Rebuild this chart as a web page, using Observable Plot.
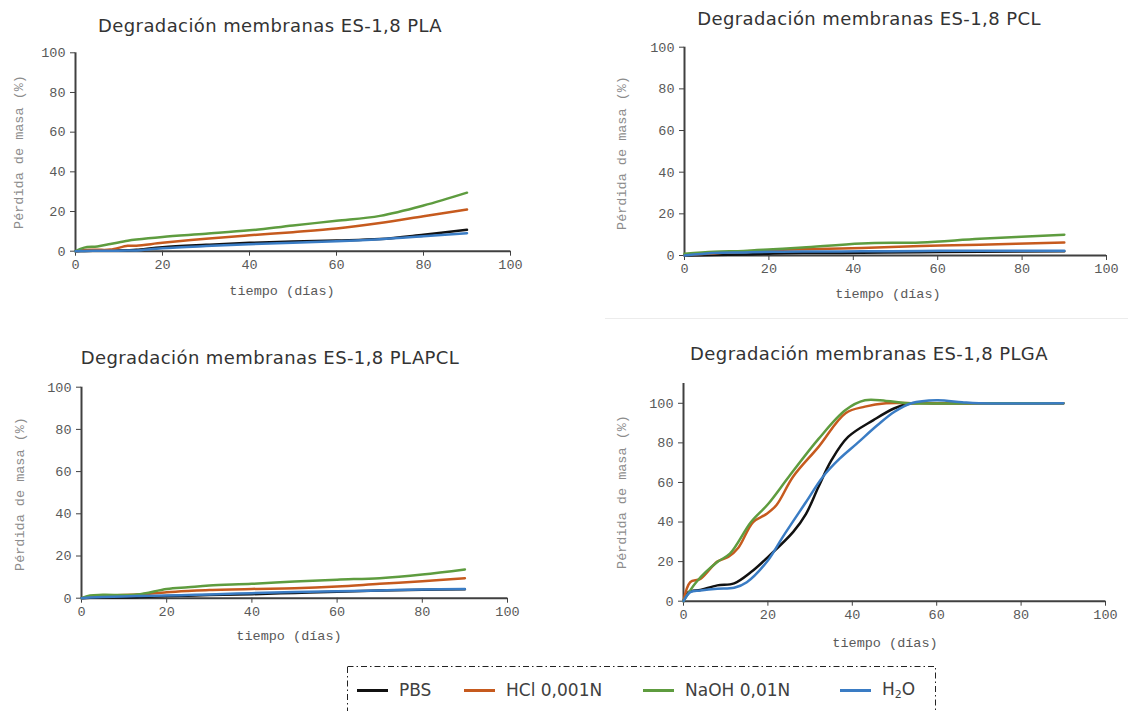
<!DOCTYPE html>
<html><head><meta charset="utf-8">
<script src="https://cdn.jsdelivr.net/npm/d3@7"></script>
<script src="https://cdn.jsdelivr.net/npm/@observablehq/plot@0.6"></script>
<style>
body{margin:0;background:#fff;}
#root{position:relative;width:1128px;height:711px;overflow:hidden;font-family:"DejaVu Sans",sans-serif;}
.title{position:absolute;transform:translate(-50%,-50%);white-space:nowrap;font-size:18px;letter-spacing:0.4px;color:#333;}
.xl,.yl{position:absolute;font-family:"Liberation Mono",monospace;font-size:13.5px;white-space:nowrap;}
.xl{transform:translate(-50%,-50%);color:#595959;}
.yl{transform:translate(-50%,-50%) rotate(-90deg);color:#8c8c8c;}
.panel{position:absolute;}
#legend{position:absolute;left:347px;top:666px;width:590px;height:60px;}
#legend svg{position:absolute;left:0;top:0;}
#legitems{position:absolute;left:10px;top:13px;display:flex;align-items:center;font-size:17px;color:#404040;white-space:nowrap;}
.li{display:flex;align-items:center;}
.sw{width:31px;height:3px;margin-right:11px;}
</style></head><body><div id="root"></div><script>
// Series
const seriesNames = ["PBS", "HCl 0,001N", "NaOH 0,01N", "H2O"];
const seriesColors = ["#111111", "#C65A1E", "#5E9C3F", "#3A7CC4"];
const xTicks = [0, 20, 40, 60, 80, 100];
const yTicks = [0, 20, 40, 60, 80, 100];

// PLA
const plaDays = [0, 2, 5, 8, 12, 14, 20, 30, 40, 50, 60, 70, 80, 90];
const plaPBS  = [0, 0.1, 0.2, 0.3, 0.5, 0.7, 2, 3.2, 4.2, 4.9, 5.4, 6.1, 8.3, 10.8];
const plaHCl  = [0, 0.6, 0.7, 0.8, 2.7, 2.8, 4.2, 6.3, 8, 9.6, 11.4, 14.2, 17.6, 21];
const plaNaOH = [0, 1.8, 2.4, 3.6, 5.3, 5.9, 7.2, 8.8, 10.5, 13, 15.3, 17.8, 23, 29.5];
const plaH2O  = [0, 0.1, 0.2, 0.2, 0.3, 0.4, 1.5, 2.6, 3.5, 4.3, 5, 6, 7.5, 9.1];

// PCL
const pclDays = [0, 7, 14, 21, 28, 42, 56, 70, 90];
const pclPBS  = [0, 0.2, 0.5, 1, 1.2, 1.3, 1.6, 1.8, 2];
const pclHCl  = [0.2, 1, 2, 2.6, 3, 3.6, 4.6, 5.2, 6.2];
const pclNaOH = [0.8, 1.8, 2.2, 3, 3.8, 5.8, 6.3, 8, 10];
const pclH2O  = [0, 1.2, 1.5, 1.8, 1.9, 2, 2.2, 2.3, 2.3];

// PLAPCL
const plapclDays = [0, 2, 5, 13, 20, 25, 30, 40, 50, 60, 70, 80, 90];
const plapclPBS  = [0, 0.2, 0.3, 0.5, 1, 1.2, 1.5, 1.9, 2.5, 3.1, 3.6, 4, 4.3];
const plapclHCl  = [0, 0.8, 1.2, 1.7, 2.8, 3.4, 3.9, 4.4, 4.7, 5.5, 6.8, 8, 9.5];
const plapclNaOH = [0, 1.3, 1.6, 1.7, 4.4, 5.2, 6, 6.8, 7.9, 8.8, 9.5, 11.2, 13.6];
const plapclH2O  = [0, 0.3, 0.6, 1, 1.3, 1.5, 1.8, 2.4, 2.9, 3.3, 3.7, 4.1, 4.4];

// PLGA
const plgaPBSDays  = [0, 1.2, 4, 8, 12, 16, 20, 26, 29, 32, 35, 39, 45, 50, 54, 60, 70, 90];
const plgaPBS      = [0, 4.6, 5.7, 8, 9, 14.7, 22.3, 35, 44, 57.8, 71, 83, 91.5, 97.5, 100, 100, 100, 100];
const plgaHClDays  = [0, 1.6, 4, 8, 10.6, 13, 16.5, 19.6, 22, 26, 32, 38.4, 43, 48, 55, 70, 90];
const plgaHCl      = [0, 9.6, 11.3, 20, 22.3, 27, 40, 44, 48.5, 63, 78, 95, 98.3, 100, 100, 100, 100];
const plgaNaOHDays = [0, 3, 8, 11, 16, 20, 25, 32, 38.4, 43, 48, 54, 70, 90];
const plgaNaOH     = [0, 9.6, 19.8, 24, 40, 49, 63, 82, 96.6, 101.5, 101.2, 100, 100, 100];
const plgaH2ODays  = [0, 1.6, 4, 8, 12, 15, 20, 23.5, 29, 33, 37, 41, 46, 50, 54, 60, 66, 70, 90];
const plgaH2O      = [0, 4.6, 5.4, 6.3, 6.8, 9.6, 20.6, 32.4, 50, 62.8, 72, 79.5, 89, 95.7, 100, 101.5, 100.5, 100, 100];

function rows(pairs) {
  const out = [];
  pairs.forEach(([days, vals], i) => days.forEach((d, j) => out.push({series: seriesNames[i], day: d, val: vals[j]})));
  return out;
}

const panels = [
  {title: "Degradación membranas ES-1,8 PLA", tx: 270, ty: 25,
   left: 0, top: 35, width: 545, height: 250, ml: 75, mr: 35, mt: 17.3, mb: 34.3, ymax: 100,
   yl: [19, 152], xl: [282, 291],
   data: rows([[plaDays, plaPBS], [plaDays, plaHCl], [plaDays, plaNaOH], [plaDays, plaH2O]])},
  {title: "Degradación membranas ES-1,8 PCL", tx: 869, ty: 18,
   left: 560, top: 30, width: 568, height: 250, ml: 124, mr: 22, mt: 16.7, mb: 25, ymax: 100,
   yl: [622, 153], xl: [888, 294],
   data: rows([[pclDays, pclPBS], [pclDays, pclHCl], [pclDays, pclNaOH], [pclDays, pclH2O]])},
  {title: "Degradación membranas ES-1,8 PLAPCL", tx: 270, ty: 357,
   left: 0, top: 370, width: 545, height: 250, ml: 81, mr: 38, mt: 16.7, mb: 22.3, ymax: 100,
   yl: [20, 494], xl: [289, 636],
   data: rows([[plapclDays, plapclPBS], [plapclDays, plapclHCl], [plapclDays, plapclNaOH], [plapclDays, plapclH2O]])},
  {title: "Degradación membranas ES-1,8 PLGA", tx: 869, ty: 353,
   left: 560, top: 370, width: 568, height: 250, ml: 123, mr: 23, mt: 13, mb: 19.3, ymax: 110,
   yl: [622, 492], xl: [885, 643],
   data: rows([[plgaPBSDays, plgaPBS], [plgaHClDays, plgaHCl], [plgaNaOHDays, plgaNaOH], [plgaH2ODays, plgaH2O]])}
];

const root = document.getElementById("root");

// faint separator line seen under the PCL panel
const sep = document.createElement("div");
sep.style.cssText = "position:absolute;left:605px;top:318px;width:523px;height:1px;background:#ececec;";
root.appendChild(sep);

panels.forEach(p => {
  const chart = Plot.plot({
    width: p.width, height: p.height,
    marginLeft: p.ml, marginRight: p.mr, marginTop: p.mt, marginBottom: p.mb,
    style: {fontFamily: "Liberation Mono, monospace", fontSize: "13.5px", color: "#595959", background: "transparent", overflow: "visible"},
    x: {domain: [0, 100]},
    y: {domain: [0, p.ymax]},
    color: {domain: seriesNames, range: seriesColors},
    marks: [
      Plot.axisX({ticks: xTicks, tickSize: 5, tickPadding: 3, label: null, stroke: "#404040"}),
      Plot.axisY({ticks: yTicks, tickSize: 5, tickPadding: 5, label: null, stroke: "#404040"}),
      Plot.ruleY([0], {stroke: "#404040", strokeWidth: 2}),
      Plot.ruleX([0], {stroke: "#404040", strokeWidth: 2}),
      Plot.line(p.data, {x: "day", y: "val", z: "series", stroke: "series", curve: "catmull-rom", strokeWidth: 2.5, strokeLinecap: "round"})
    ]
  });
  const wrap = document.createElement("div");
  wrap.className = "panel";
  wrap.style.left = p.left + "px";
  wrap.style.top = p.top + "px";
  wrap.appendChild(chart);
  root.appendChild(wrap);

  const t = document.createElement("div");
  t.className = "title"; t.textContent = p.title;
  t.style.left = p.tx + "px"; t.style.top = p.ty + "px";
  root.appendChild(t);

  const xl = document.createElement("div");
  xl.className = "xl"; xl.textContent = "tiempo (días)";
  xl.style.left = p.xl[0] + "px"; xl.style.top = p.xl[1] + "px";
  root.appendChild(xl);

  const yl = document.createElement("div");
  yl.className = "yl"; yl.textContent = "Pérdida de masa (%)";
  yl.style.left = p.yl[0] + "px"; yl.style.top = p.yl[1] + "px";
  root.appendChild(yl);
});

// Legend
const leg = document.createElement("div");
leg.id = "legend";
leg.innerHTML = '<svg width="590" height="60"><rect x="0.5" y="0.5" width="588" height="70" fill="none" stroke="#222" stroke-width="1" stroke-dasharray="6,3,1.5,3"/></svg>';
const items = document.createElement("div");
items.id = "legitems";
const itemWidths = [107, 179, 197, 80];
seriesNames.forEach((name, i) => {
  const it = document.createElement("div");
  it.className = "li";
  it.style.width = itemWidths[i] + "px";
  const sw = document.createElement("div");
  sw.className = "sw"; sw.style.background = seriesColors[i];
  const lab = document.createElement("span");
  if (name === "H2O") lab.innerHTML = 'H<sub style="font-size:11px;vertical-align:-3px">2</sub>O';
  else lab.textContent = name;
  it.appendChild(sw); it.appendChild(lab);
  items.appendChild(it);
});
leg.appendChild(items);
root.appendChild(leg);
</script></body></html>
